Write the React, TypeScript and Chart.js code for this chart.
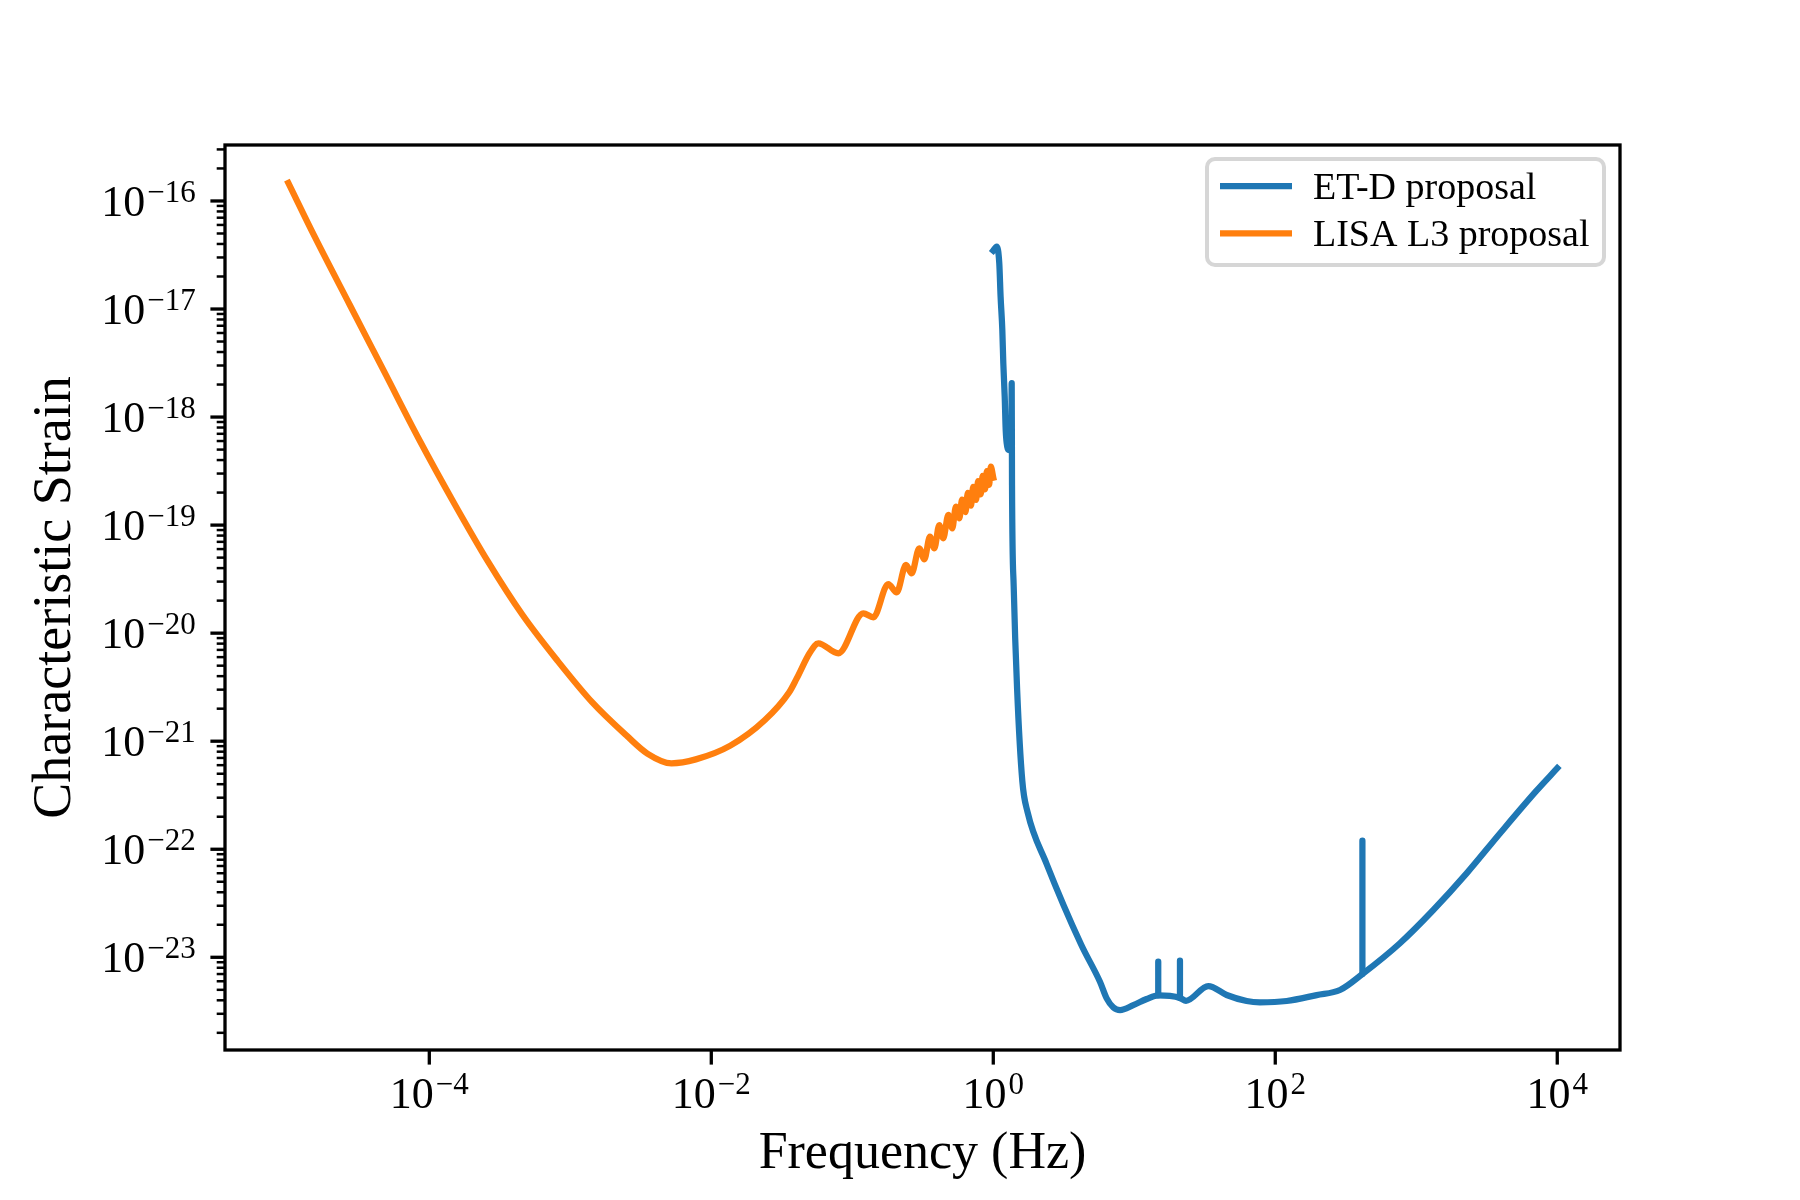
import React, { useEffect, useRef } from "react";
import { Chart, registerables } from "chart.js";

Chart.register(...registerables);

// ---------- data ----------
const etdFreq = [
  1.0, 1.057, 1.103, 1.127, 1.159, 1.178, 1.205, 1.225, 1.256, 1.291, 1.343, 1.351, 1.358, 1.396,
  1.476, 1.607, 1.75, 2.38, 4.19, 5.71, 6.37, 7.1, 7.93, 9.84, 12.25, 14.79, 17.91, 21.09, 23.28,
  33.5, 45.2, 62.7, 77.8, 120.5, 196.8, 287.7, 415, 766, 1321, 2275, 3917, 7079, 10000,
];
const etdStrain = [
  3.47e-17, 3.78e-17, 2.65e-17, 1.3e-17, 6.4e-18, 3.15e-18, 1.55e-18, 7.59e-19, 5.32e-19, 4.95e-19,
  5.0e-19, 2.06e-18, 2.34e-19, 2.69e-20, 3.02e-21, 4.27e-22, 2.21e-22, 7.41e-23, 1.32e-23, 5.94e-24,
  4.17e-24, 3.44e-24, 3.25e-24, 3.61e-24, 4.11e-24, 4.45e-24, 4.39e-24, 4.2e-24, 3.96e-24, 5.42e-24,
  4.48e-24, 3.94e-24, 3.83e-24, 3.94e-24, 4.47e-24, 4.98e-24, 7.0e-24, 1.35e-23, 2.74e-23, 5.98e-23,
  1.4e-22, 3.45e-22, 5.62e-22,
];
// narrow resonance lines of ET-D (frequency, strain at foot, strain at tip)
const etdLineFreq = [14.79, 21.09, 415];
const etdLineFoot = [4.45e-24, 4.2e-24, 7.0e-24];
const etdLineTip = [9.1e-24, 9.31e-24, 1.2e-22];

const lisaFreq = [
  1.0e-5, 1.545e-5, 2.72e-5, 4.79e-5, 8.43e-5, 1.486e-4, 2.61e-4, 4.59e-4, 8.09e-4, 1.422e-3,
  2.51e-3, 3.52e-3, 5.22e-3, 7.76e-3, 1.365e-2, 2.4e-2, 3.57e-2, 4.04e-2, 5.01e-2, 0.0574, 0.0796,
  0.1197, 0.141, 0.18, 0.2065, 0.2404, 0.2636, 0.2985, 0.3243, 0.3556, 0.382, 0.414, 0.4416, 0.48,
  0.512, 0.543, 0.575, 0.6, 0.635, 0.66, 0.695, 0.72, 0.755, 0.78, 0.815, 0.84, 0.875, 0.9, 0.935,
  0.96, 1.0,
];
const lisaStrain = [
  1.47e-16, 4.62e-17, 1.1e-17, 2.63e-18, 6.27e-19, 1.63e-19, 4.59e-20, 1.47e-20, 5.58e-21, 2.31e-21,
  1.125e-21, 7.69e-22, 6.24e-22, 6.79e-22, 9.1e-22, 1.57e-21, 2.84e-21, 3.82e-21, 6.61e-21, 8.05e-21,
  6.5e-21, 1.528e-20, 1.403e-20, 2.85e-20, 2.39e-20, 4.28e-20, 3.58e-20, 6.1e-20, 4.83e-20, 7.82e-20,
  6.1e-20, 1.002e-19, 7.55e-20, 1.242e-19, 9.33e-20, 1.483e-19, 1.156e-19, 1.722e-19, 1.321e-19,
  1.986e-19, 1.514e-19, 2.26e-19, 1.714e-19, 2.55e-19, 1.923e-19, 2.85e-19, 2.14e-19, 3.16e-19,
  2.36e-19, 3.48e-19, 2.75e-19,
];

const seriesLabels = ["ET-D proposal", "LISA L3 proposal"];
const seriesColors = ["#1f77b4", "#ff7f0e"];

const xTickValues = [1e-4, 1e-2, 1, 1e2, 1e4];
const xTickExponents = ["\u22124", "\u22122", "0", "2", "4"];
const yTickValues = [1e-16, 1e-17, 1e-18, 1e-19, 1e-20, 1e-21, 1e-22, 1e-23];
const yTickExponents = ["\u221216", "\u221217", "\u221218", "\u221219", "\u221220", "\u221221", "\u221222", "\u221223"];

const xTitle = "Frequency (Hz)";
const yTitle = "Characteristic Strain";

const FONT = "'Liberation Serif', 'DejaVu Serif', serif";
const BASE_PX = 44;
const EXP_PX = 31;

const decorPlugin = {
  id: "decor",
  afterDatasetsDraw(chart: any) {
    const { ctx, chartArea: a, scales } = chart;
    const xs = scales.x;
    const ys = scales.y;
    const major = 14.6;
    const minor = 8.3;
    const pad = 14.6;
    const gap = 2;
    ctx.save();
    ctx.strokeStyle = "#000";
    ctx.fillStyle = "#000";
    ctx.lineCap = "butt";

    // y minor ticks
    ctx.lineWidth = 2.5;
    for (let n = -25; n <= -14; n++) {
      for (let k = 2; k <= 9; k++) {
        const v = k * Math.pow(10, n);
        if (v < ys.min || v > ys.max) continue;
        const py = ys.getPixelForValue(v);
        ctx.beginPath();
        ctx.moveTo(a.left - minor, py);
        ctx.lineTo(a.left, py);
        ctx.stroke();
      }
    }
    // y major ticks + labels
    ctx.lineWidth = 3.3;
    yTickValues.forEach((v, i) => {
      const py = ys.getPixelForValue(v);
      ctx.beginPath();
      ctx.moveTo(a.left - major, py);
      ctx.lineTo(a.left, py);
      ctx.stroke();
      const right = a.left - major - pad;
      ctx.font = `${EXP_PX}px ${FONT}`;
      const ew = ctx.measureText(yTickExponents[i]).width;
      ctx.font = `${BASE_PX}px ${FONT}`;
      const bw = ctx.measureText("10").width;
      ctx.textBaseline = "alphabetic";
      ctx.textAlign = "left";
      const base = py + 15;
      ctx.fillText("10", right - ew - gap - bw, base);
      ctx.font = `${EXP_PX}px ${FONT}`;
      ctx.fillText(yTickExponents[i], right - ew, base - 14);
    });
    // x major ticks + labels
    xTickValues.forEach((v, i) => {
      const px = xs.getPixelForValue(v);
      ctx.beginPath();
      ctx.moveTo(px, a.bottom);
      ctx.lineTo(px, a.bottom + major);
      ctx.stroke();
      ctx.font = `${EXP_PX}px ${FONT}`;
      const ew = ctx.measureText(xTickExponents[i]).width;
      ctx.font = `${BASE_PX}px ${FONT}`;
      const bw = ctx.measureText("10").width;
      const left = px - (ew + bw + gap) / 2;
      ctx.textBaseline = "alphabetic";
      ctx.textAlign = "left";
      const base = a.bottom + 58;
      ctx.fillText("10", left, base);
      ctx.font = `${EXP_PX}px ${FONT}`;
      ctx.fillText(xTickExponents[i], left + bw + gap, base - 14);
    });

    // frame (spines)
    ctx.lineWidth = 3.3;
    ctx.lineJoin = "miter";
    ctx.strokeRect(a.left, a.top, a.right - a.left, a.bottom - a.top);

    // axis titles
    ctx.font = `52px ${FONT}`;
    ctx.textAlign = "center";
    ctx.textBaseline = "alphabetic";
    ctx.fillText(xTitle, (a.left + a.right) / 2, 1168);
    ctx.save();
    ctx.font = `54px ${FONT}`;
    ctx.translate(70, (a.top + a.bottom) / 2);
    ctx.rotate(-Math.PI / 2);
    ctx.fillText(yTitle, 0, 0);
    ctx.restore();

    // legend
    const lx0 = 1207, ly0 = 159, lx1 = 1604, ly1 = 265, r = 8;
    ctx.beginPath();
    ctx.moveTo(lx0 + r, ly0);
    ctx.lineTo(lx1 - r, ly0);
    ctx.arcTo(lx1, ly0, lx1, ly0 + r, r);
    ctx.lineTo(lx1, ly1 - r);
    ctx.arcTo(lx1, ly1, lx1 - r, ly1, r);
    ctx.lineTo(lx0 + r, ly1);
    ctx.arcTo(lx0, ly1, lx0, ly1 - r, r);
    ctx.lineTo(lx0, ly0 + r);
    ctx.arcTo(lx0, ly0, lx0 + r, ly0, r);
    ctx.closePath();
    ctx.fillStyle = "rgba(255,255,255,0.8)";
    ctx.fill();
    ctx.lineWidth = 4;
    ctx.strokeStyle = "#d6d6d6";
    ctx.stroke();

    const rows = [186, 233.3];
    seriesLabels.forEach((label, i) => {
      const y = rows[i];
      ctx.strokeStyle = seriesColors[i];
      ctx.lineWidth = 6.25;
      ctx.lineCap = "butt";
      ctx.beginPath();
      ctx.moveTo(1220, y);
      ctx.lineTo(1292, y);
      ctx.stroke();
      ctx.fillStyle = "#000";
      ctx.font = `38px ${FONT}`;
      ctx.textAlign = "left";
      ctx.textBaseline = "alphabetic";
      ctx.fillText(label, 1313, y + 12.5);
    });
    ctx.restore();
  },
};

export default function App() {
  const ref = useRef<HTMLCanvasElement | null>(null);
  useEffect(() => {
    if (!ref.current) return;
    const makeData = (fs: number[], hs: number[]) => fs.map((f, i) => ({ x: f, y: hs[i] }));
    const lineData: any[] = [];
    etdLineFreq.forEach((f, i) => {
      lineData.push({ x: f, y: etdLineFoot[i] });
      lineData.push({ x: f, y: etdLineTip[i] });
      lineData.push({ x: f, y: null });
    });
    const chart = new Chart(ref.current, {
      type: "line",
      data: {
        datasets: [
          {
            label: seriesLabels[0],
            data: makeData(etdFreq, etdStrain),
            borderColor: seriesColors[0],
            backgroundColor: seriesColors[0],
            borderWidth: 6.25,
            pointRadius: 0,
            fill: false,
            cubicInterpolationMode: "monotone",
            borderCapStyle: "square",
            borderJoinStyle: "round",
          },
          {
            label: seriesLabels[1],
            data: makeData(lisaFreq, lisaStrain),
            borderColor: seriesColors[1],
            backgroundColor: seriesColors[1],
            borderWidth: 6.25,
            pointRadius: 0,
            fill: false,
            cubicInterpolationMode: "monotone",
            borderCapStyle: "square",
            borderJoinStyle: "round",
          },
          {
            label: seriesLabels[0] + " lines",
            data: lineData,
            borderColor: seriesColors[0],
            backgroundColor: seriesColors[0],
            borderWidth: 6.25,
            pointRadius: 0,
            fill: false,
            tension: 0,
            spanGaps: false,
            borderCapStyle: "round",
          },
        ],
      },
      options: {
        responsive: false,
        animation: false,
        devicePixelRatio: 1,
        layout: { padding: { left: 225, right: 180, top: 145, bottom: 150 } },
        plugins: { legend: { display: false }, tooltip: { enabled: false } },
        scales: {
          x: {
            type: "logarithmic",
            min: Math.pow(10, -5.449),
            max: Math.pow(10, 4.445),
            grid: { display: false, drawTicks: false },
            border: { display: false },
            ticks: { display: false },
          },
          y: {
            type: "logarithmic",
            min: Math.pow(10, -23.858),
            max: Math.pow(10, -15.482),
            grid: { display: false, drawTicks: false },
            border: { display: false },
            ticks: { display: false },
          },
        },
      },
      plugins: [decorPlugin],
    } as any);
    return () => chart.destroy();
  }, []);
  return (
    <div style={{ position: "absolute", left: 0, top: 0, width: 1800, height: 1200, background: "#fff" }}>
      <canvas ref={ref} width={1800} height={1200} style={{ width: 1800, height: 1200 }} />
    </div>
  );
}
